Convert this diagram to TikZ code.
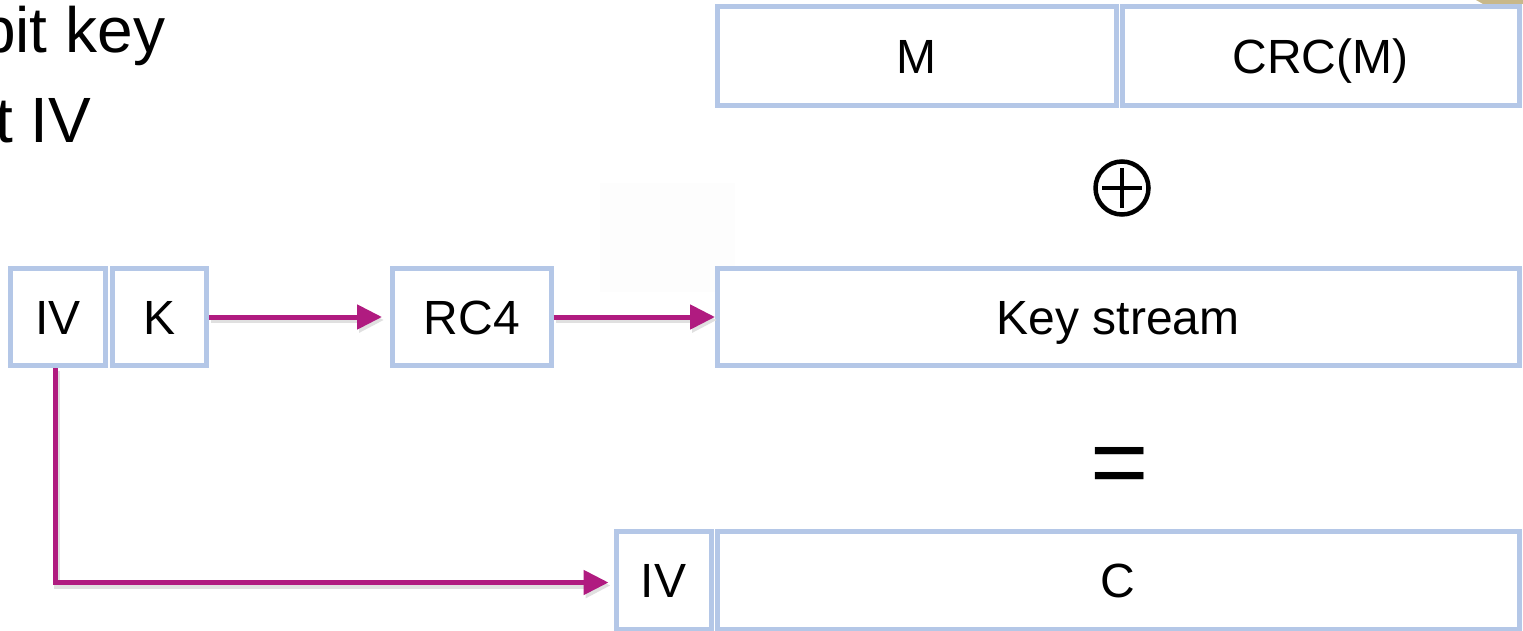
\documentclass[tikz,border=0pt]{standalone}
\usepackage{fontspec}
\setmainfont{Liberation Sans}
\usetikzlibrary{arrows.meta}

\definecolor{boxblue}{RGB}{180,199,231}
\definecolor{flowmag}{RGB}{176,27,128}
\definecolor{cornertan}{RGB}{200,184,138}
\definecolor{hazegray}{RGB}{253,253,253}

\tikzset{
  field/.style={draw=boxblue, fill=white, line width=5pt, inner sep=0pt,
    font=\fontsize{48}{58}\selectfont, text height=34.4pt, text depth=0pt},
  flow/.style={draw=flowmag, line width=5pt,
    -{Triangle[length=25pt, width=24pt]},
    preaction={draw=black!12, line width=6pt,
      transform canvas={shift={(2pt,-3pt)}}}},
  bullet/.style={font=\fontsize{64}{77}\selectfont, inner sep=0pt, anchor=base west},
}

\begin{document}
\begin{tikzpicture}[x=1pt, y=-1pt]
\clip (0,0) rectangle (1523,631);
\fill[white] (0,0) rectangle (1523,631);

% faint panel behind the middle row
\fill[hazegray] (600,183) rectangle (735,292);
% corner of a neighbouring shape
\fill[cornertan] (1476,0) -- (1483,4) -- (1523,4) -- (1523,0) -- cycle;

% bullet text, running in from the left edge
\node[bullet] (keytxt) at (-20,53) {bit key};
\node[bullet] (ivtxt) at (-5,143) {t IV};

% plaintext with checksum
\node[field, minimum width=399pt, minimum height=98.5pt] (m) at (916.5,56.25) {M};
\node[field, minimum width=397pt, minimum height=98.5pt] (crc) at (1320.5,56.25) {CRC(M)};

% xor sign
\node[circle, draw=black, line width=4.5pt, minimum size=53pt, inner sep=0pt,
  path picture={
    \draw[line width=4.5pt] ([xshift=-20pt]path picture bounding box.center) -- ([xshift=20pt]path picture bounding box.center);
    \draw[line width=4.5pt] ([yshift=-20pt]path picture bounding box.center) -- ([yshift=20pt]path picture bounding box.center);
  }] (xor) at (1122,188) {};

% key generation row
\node[field, minimum width=95pt, minimum height=97pt] (ivt) at (58,317) {IV};
\node[field, minimum width=94.5pt, minimum height=97pt] (k) at (159.25,317) {K};
\node[field, minimum width=158.5pt, minimum height=97pt] (rc4) at (471.75,317) {RC4};
\node[field, minimum width=801.5pt, minimum height=97pt] (ks) at (1118.25,317) {Key stream};

% equals sign
\node[font=\fontsize{100}{120}\selectfont, inner sep=0pt, anchor=base] (eq) at (1120,496) {=};

% ciphertext frame
\node[field, minimum width=95pt, minimum height=98pt] (ivb) at (663.5,580) {IV};
\node[field, minimum width=802pt, minimum height=98pt] (c) at (1118,580) {C};

% connectors
\draw[flow, shorten >=8pt] (k.east) -- (rc4.west);
\draw[flow] (rc4.east) -- (ks.west);
\draw[flow, shorten >=5pt] ([xshift=-3pt]ivt.south) |- ([yshift=-2.5pt]ivb.west);
\end{tikzpicture}
\end{document}
